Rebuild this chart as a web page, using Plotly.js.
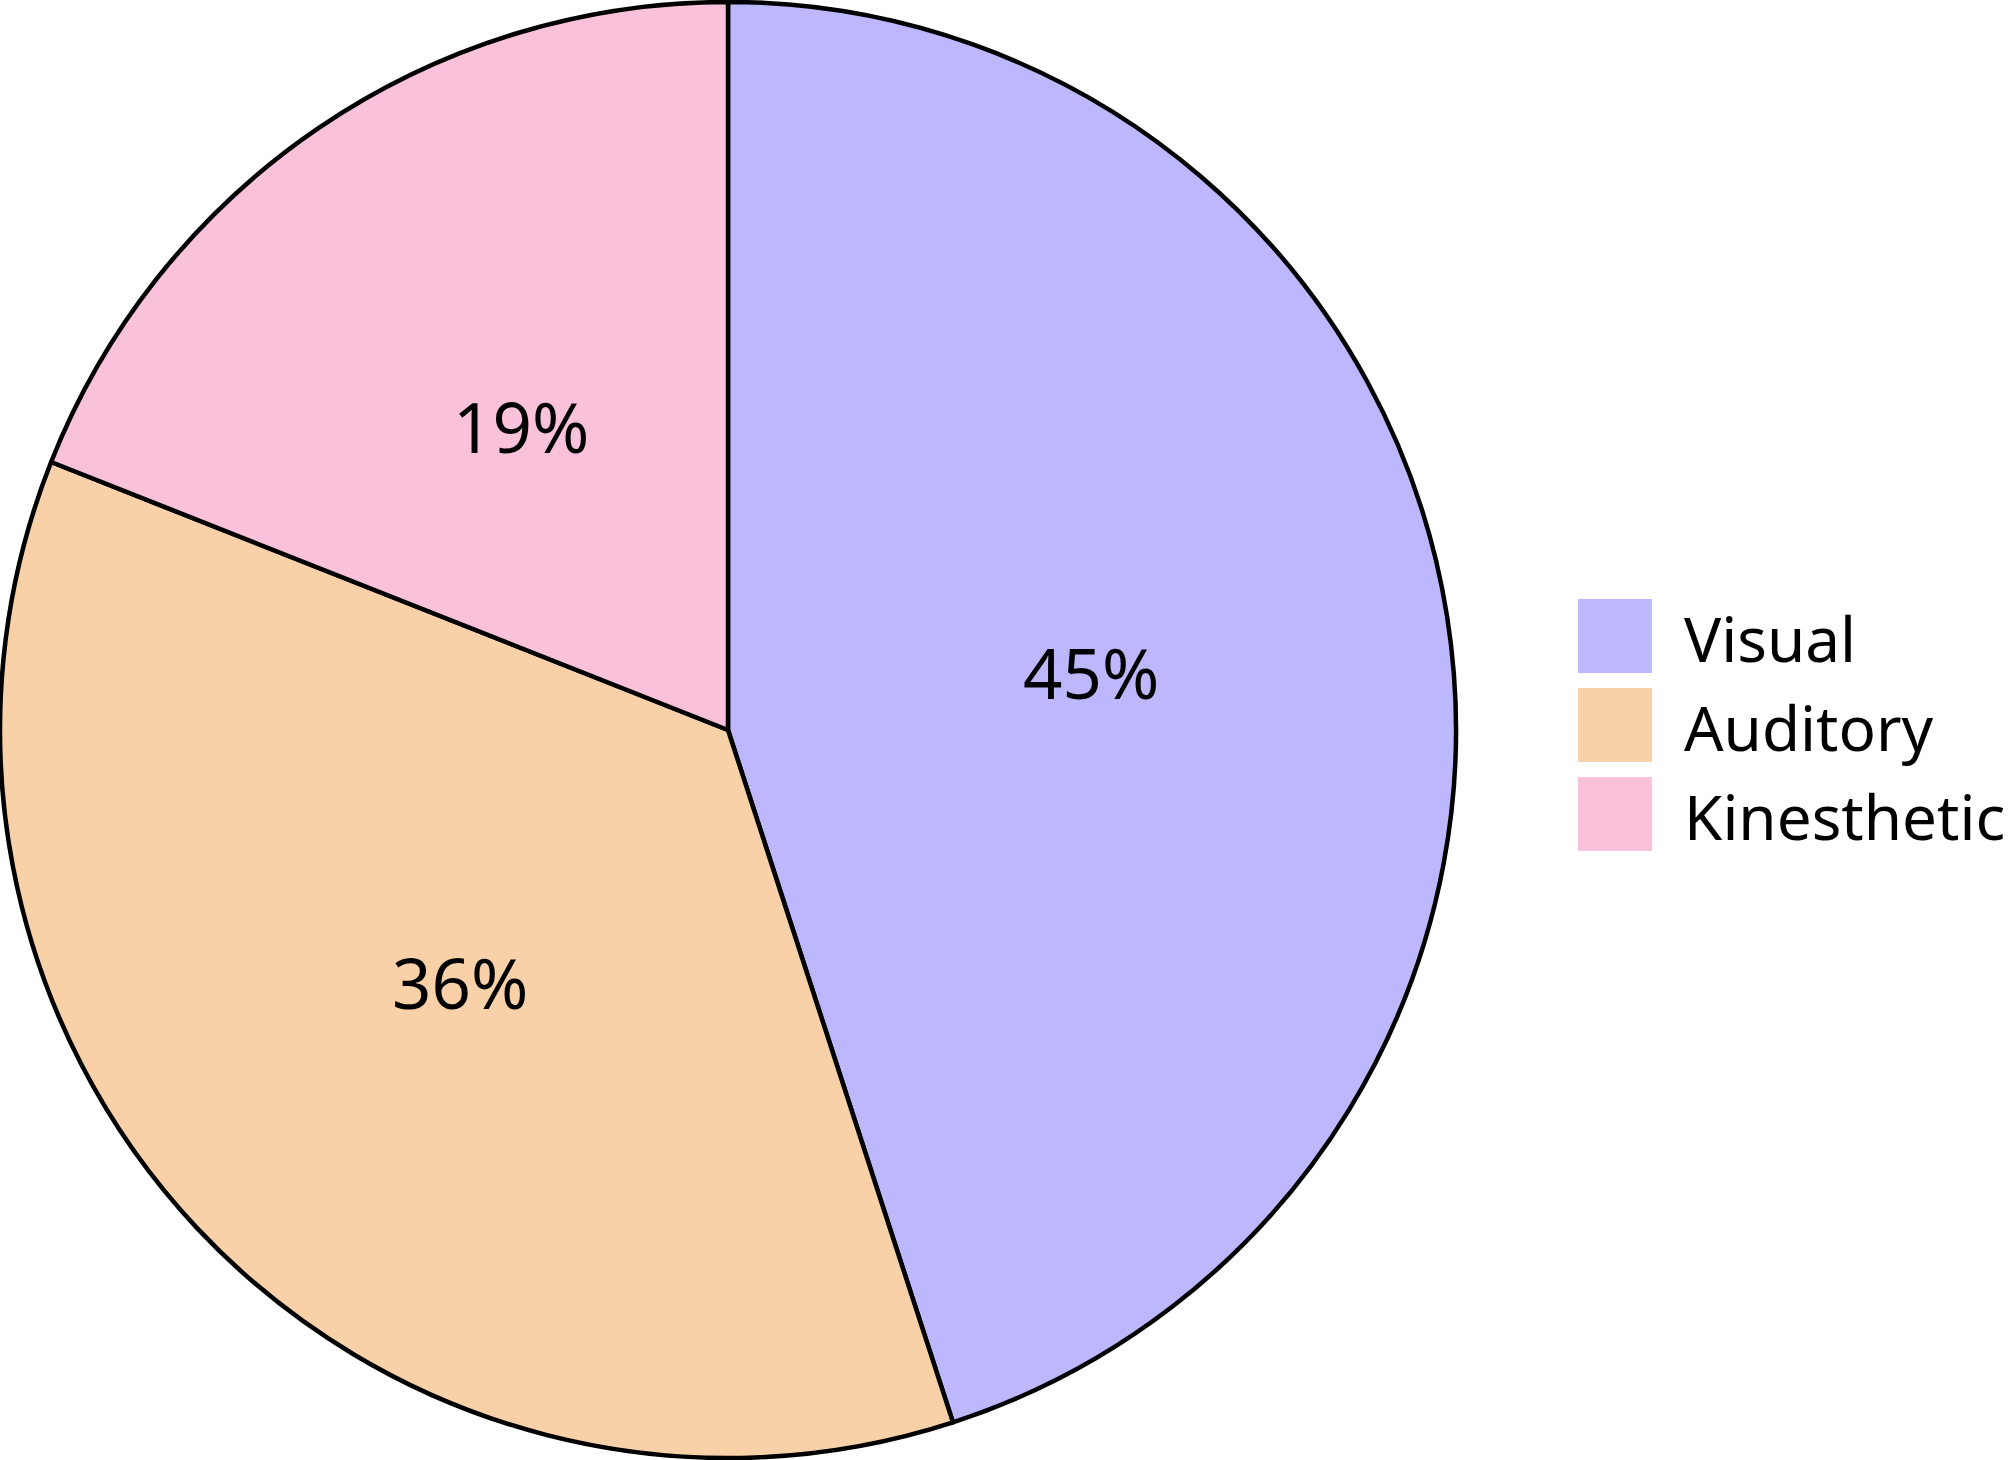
<!DOCTYPE html>
<html>
<head>
<meta charset="utf-8">
<script src="https://cdn.plot.ly/plotly-3.0.1.min.js"></script>
<style>html,body{margin:0;padding:0;background:#fff;}#chart{width:2016px;height:1460px;}</style>
</head>
<body>
<div id="chart"></div>
<script>
var categories = ["Visual", "Auditory", "Kinesthetic"];
var values = [45, 36, 19];
var colors = ["#bdb8fe", "#f9d1a8", "#f9c2da"];

var W = 2016, H = 1460;
var FONT = "Noto Sans, Open Sans, sans-serif";
var CX = 728, CY = 730, R = 728;   // pie centre / radius in pixels (layout)

var trace = {
  type: "pie",
  labels: categories,
  values: values,
  sort: false,
  direction: "clockwise",
  rotation: 0,
  marker: {colors: colors, line: {color: "#000000", width: 4.5}},
  textinfo: "none",
  hoverinfo: "label+percent",
  showlegend: false,
  domain: {x: [0, 2 * CX / W], y: [0, 1]}
};

var shapes = [], annotations = [];

// Percentage labels, placed at mid-angle of each slice (derived from values)
var total = values.reduce(function (a, b) { return a + b; }, 0);
var cum = 0;
values.forEach(function (v) {
  var mid = (cum + v / 2) / total * 2 * Math.PI;  // clockwise from 12 o'clock
  cum += v;
  var rr = 0.505 * R;
  annotations.push({
    xref: "paper", yref: "paper",
    x: (CX + rr * Math.sin(mid)) / W,
    y: 0.5 + (rr * Math.cos(mid)) / H,
    xanchor: "center", yanchor: "middle",
    text: Math.round(v / total * 100) + "%",
    showarrow: false,
    font: {family: FONT, size: 69, color: "#000000"}
  });
});

// Legend built from the category and colour arrays
var sw0 = 1578, swSize = 74, top0 = 599, step = 89;
categories.forEach(function (c, i) {
  var y0 = top0 + i * step;
  shapes.push({
    type: "rect", xref: "paper", yref: "paper",
    x0: sw0 / W, x1: (sw0 + swSize) / W,
    y0: 1 - (y0 + swSize) / H, y1: 1 - y0 / H,
    fillcolor: colors[i], line: {width: 0}
  });
  annotations.push({
    xref: "paper", yref: "paper",
    x: 1682 / W, y: 1 - (y0 + swSize / 2 + 2) / H,
    xanchor: "left", yanchor: "middle",
    text: c, showarrow: false,
    font: {family: FONT, size: 62, color: "#000000"}
  });
});

var layout = {
  width: W, height: H,
  margin: {l: 0, r: 0, t: 0, b: 0},
  paper_bgcolor: "#ffffff",
  plot_bgcolor: "#ffffff",
  showlegend: false,
  shapes: shapes,
  annotations: annotations
};

Plotly.newPlot("chart", [trace], layout, {displayModeBar: false, staticPlot: true});
</script>
</body>
</html>
